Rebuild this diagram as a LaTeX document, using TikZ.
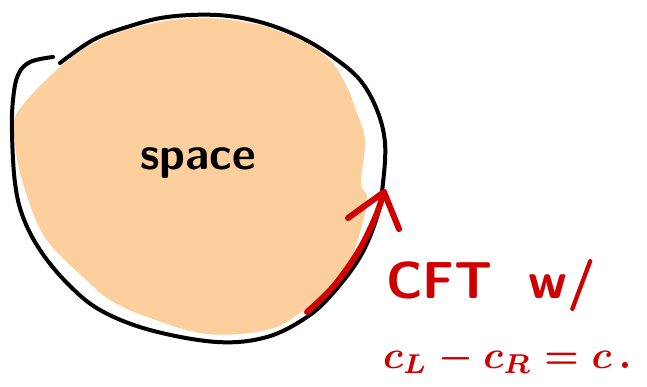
\documentclass[tikz,border=0pt]{standalone}
\usepackage{tikz}
\usepackage{graphicx}
\usetikzlibrary{positioning}
\definecolor{blobfill}{RGB}{253,207,157}
\definecolor{penred}{RGB}{208,0,0}

\begin{document}
\begin{tikzpicture}[
  x=1pt, y=-1pt,
  outline/.style={draw=black, line width=4pt, line cap=round, line join=round},
  redpen/.style={draw=penred, line width=6pt, line cap=round, line join=round},
  hand/.style={font=\sffamily\bfseries\fontsize{46}{52}\selectfont, inner sep=0pt}
]
  \useasboundingbox (0,0) rectangle (647,386);

  % shaded region
  \fill[blobfill] plot[smooth cycle, tension=0.6] coordinates {
    (60,67) (100,40) (150,24) (200,18) (255,24) (300,40) (330,60)
    (347,87) (355,108) (365,140) (361,183) (367,197) (362,225)
    (350,260) (325,292) (300,313) (267,330) (207,334) (150,318)
    (110,300) (83,277) (55,250) (38,225) (22,180) (15,143) (17,113)};

  % boundary, drawn round with a small gap at top left
  \draw[outline] plot[smooth, tension=0.6] coordinates {
    (60,63) (93,40) (127,27) (167,17) (217,15) (260,22) (300,37)
    (333,57) (360,80) (377,110) (385,143) (383,183) (377,217)
    (360,257) (333,293) (307,317) (267,337) (217,342) (150,330)
    (100,310) (67,283) (40,250) (23,217) (15,183) (12,133) (13,100)
    (18,75) (30,62) (53,57)};

  % red arrow along the boundary
  \coordinate (tail) at (307,312);
  \coordinate (tip) at (384,192);
  \draw[redpen] plot[smooth, tension=0.6] coordinates {
    (307,312) (333,287) (358,252) (375,218) (384,192)};
  \draw[redpen] (348,218) -- (tip) -- (399,229);

  % labels
  \node[hand] (space) at (198,163) {space};
  \node[hand, text=penred, font=\sffamily\bfseries\fontsize{52}{58}\selectfont, anchor=base west]
    (cft) at (386,298) {CFT\hspace{0.7em}w/};
  \node[hand, text=penred, font=\normalsize, anchor=base west]
    (anom) at (383,368) {\scalebox{3.9}{\boldmath$c_L - c_R = c\,.$}};
\end{tikzpicture}
\end{document}
